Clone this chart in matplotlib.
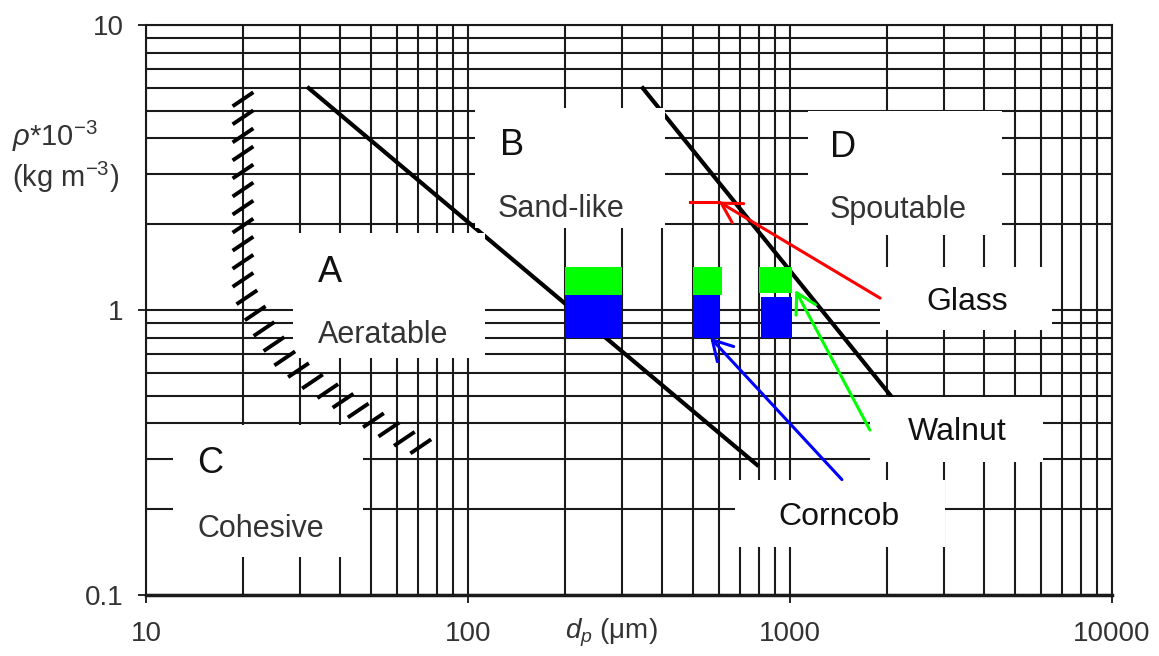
import numpy as np
import matplotlib
matplotlib.use("Agg")
import matplotlib.pyplot as plt
import matplotlib.ticker as ticker
import matplotlib.patheffects as pe
from matplotlib.patches import Rectangle
from matplotlib.path import Path
from matplotlib.transforms import IdentityTransform

plt.rcParams['font.family'] = ['Liberation Sans', 'DejaVu Sans']
plt.rcParams['mathtext.fontset'] = 'custom'
plt.rcParams['mathtext.rm'] = 'Liberation Sans'
plt.rcParams['mathtext.it'] = 'Liberation Sans:italic'

# group boundaries, dp in um, rho*1e-3
ab_dp = [32, 790]
ab_rho = [6.0, 0.286]
bd_dp = [349, 2070]
bd_rho = [6.0, 0.495]
# hatched C/A boundary
ca_dp = [20, 20, 20.3, 22.8, 26.4, 32.3, 39.7, 50.7, 63.7, 74]
ca_rho = [5.9, 1.25, 1.14, 0.886, 0.69, 0.568, 0.491, 0.411, 0.352, 0.326]

# materials
walnut_dp_lo = [200, 500, 800]
walnut_dp_hi = [300, 615, 1015]
walnut_rho_lo = [1.13, 1.13, 1.15]
walnut_rho_hi = [1.42, 1.42, 1.42]
corncob_dp_lo = [200, 500, 810]
corncob_dp_hi = [300, 600, 1015]
corncob_rho_lo = [0.80, 0.80, 0.80]
corncob_rho_hi = [1.13, 1.13, 1.11]
glass_dp = [490, 600]
glass_rho = [2.4, 2.4]

groups = ['A', 'B', 'C', 'D']
group_names = ['Aeratable', 'Sand-like', 'Cohesive', 'Spoutable']
materials = ['Glass', 'Walnut', 'Corncob']
mat_colors = ['#ff0000', '#00ff00', '#0000ff']
arrow_tips = [(600, 2.4), (1038, 1.175), (565, 0.80)]
arrow_tails = [(1905, 1.10), (1770, 0.379), (1449, 0.254)]


class Slashes(pe.AbstractPathEffect):
    """short strokes at a fixed screen angle, centred on the path (no line)"""
    def __init__(self, spacing=13, angle=34, length=18):
        super().__init__()
        self._spacing = spacing
        self._angle = np.radians(angle)
        self._length = length

    def draw_path(self, renderer, gc, tpath, affine, rgbFace=None):
        xy = affine.transform_path(tpath).vertices
        ds = np.hypot(*np.diff(xy, axis=0).T)
        s = np.concatenate(([0.0], np.cumsum(ds)))
        step = renderer.points_to_pixels(self._spacing)
        half = renderer.points_to_pixels(self._length) / 2
        st = np.arange(step / 2, s[-1], step)
        cx = np.interp(st, s, xy[:, 0])
        cy = np.interp(st, s, xy[:, 1])
        dx = half * np.cos(self._angle)
        dy = half * np.sin(self._angle)
        verts = np.empty((2 * len(st), 2))
        verts[0::2] = np.column_stack([cx - dx, cy - dy])
        verts[1::2] = np.column_stack([cx + dx, cy + dy])
        codes = np.tile([Path.MOVETO, Path.LINETO], len(st))
        renderer.draw_path(gc, Path(verts, codes), IdentityTransform())


fig = plt.figure(figsize=(11.59, 6.56), dpi=100)
ax = fig.add_axes([0.126, 0.093, 0.8335, 0.869])
ax.set_xscale('log')
ax.set_yscale('log')
ax.set_xlim(10, 10000)
ax.set_ylim(0.1, 10)

ax.set_axisbelow(True)
ax.grid(which='both', color='#1a1a1a', lw=1.5)
fmt = ticker.FuncFormatter(lambda v, p: '%g' % v)
ax.xaxis.set_major_formatter(fmt)
ax.yaxis.set_major_formatter(fmt)
ax.xaxis.set_minor_formatter(ticker.NullFormatter())
ax.yaxis.set_minor_formatter(ticker.NullFormatter())
ax.tick_params(which='major', length=6, width=1.2, direction='out',
               labelsize=20, labelcolor='#333333')
ax.tick_params(which='minor', length=0)
ax.tick_params(axis='x', pad=13)
ax.tick_params(axis='y', pad=10)
for s in ax.spines.values():
    s.set_linewidth(1.5)
    s.set_color('#1a1a1a')
ax.spines['bottom'].set_linewidth(2.5)

ax.set_xlabel(r'$d_p$ (μm)', fontsize=20, color='#333333', va='center')
ax.xaxis.set_label_coords(0.482, -0.067)
ax.set_ylabel(r'$\rho$*10$^{-3}$' + '\n' + r'(kg m$^{-3}$)', fontsize=21,
              color='#333333', rotation=0, ha='left', va='center',
              multialignment='left')
ax.yaxis.set_label_coords(-0.139, 0.768)

# boundaries
ax.plot(ab_dp, ab_rho, color='black', lw=3, zorder=2)
ax.plot(bd_dp, bd_rho, color='black', lw=3, zorder=2)

# white label boxes (axes fraction: x0, y0, x1, y1)
group_boxes = [(0.152, 0.416, 0.351, 0.635), (0.341, 0.644, 0.537, 0.854),
               (0.028, 0.067, 0.225, 0.298), (0.685, 0.632, 0.886, 0.849)]
group_letter_pos = [(0.178, 0.549), (0.366, 0.772), (0.053, 0.214), (0.708, 0.768)]
group_name_pos = [(0.178, 0.442), (0.364, 0.663), (0.053, 0.102), (0.708, 0.661)]
mat_boxes = [(0.760, 0.465, 0.938, 0.575), (0.749, 0.233, 0.929, 0.347),
             (0.610, 0.084, 0.827, 0.202)]
mat_pos = [(0.850, 0.500), (0.840, 0.272), (0.717, 0.123)]

for (x0, y0, x1, y1) in group_boxes + mat_boxes:
    ax.add_patch(Rectangle((x0, y0), x1 - x0, y1 - y0, transform=ax.transAxes,
                           facecolor='white', edgecolor='none', zorder=3))

for g, name, lp, npos in zip(groups, group_names, group_letter_pos, group_name_pos):
    ax.text(lp[0], lp[1], g, transform=ax.transAxes, fontsize=26,
            color='#111111', ha='left', va='baseline', zorder=7)
    ax.text(npos[0], npos[1], name, transform=ax.transAxes, fontsize=22,
            color='#333333', ha='left', va='baseline', zorder=7)

for m, p in zip(materials, mat_pos):
    ax.text(p[0], p[1], m, transform=ax.transAxes, fontsize=23,
            color='#111111', ha='center', va='baseline', zorder=7)

# hatched C/A boundary
ax.plot(ca_dp, ca_rho, color='black', lw=2.8, zorder=4, solid_capstyle='butt',
        path_effects=[Slashes(spacing=13, angle=34, length=18)])

# material ranges
ax.bar(walnut_dp_lo, np.subtract(walnut_rho_hi, walnut_rho_lo),
       width=np.subtract(walnut_dp_hi, walnut_dp_lo), bottom=walnut_rho_lo,
       align='edge', color='#00ff00', zorder=5)
ax.bar(corncob_dp_lo, np.subtract(corncob_rho_hi, corncob_rho_lo),
       width=np.subtract(corncob_dp_hi, corncob_dp_lo), bottom=corncob_rho_lo,
       align='edge', color='#0000ff', zorder=5)
ax.plot(glass_dp, glass_rho, color='#ff0000', lw=2.2, zorder=5)

for tip, tail, c in zip(arrow_tips, arrow_tails, mat_colors):
    ax.annotate('', xy=tip, xytext=tail,
                arrowprops=dict(arrowstyle='->,head_length=0.7,head_width=0.4',
                                color=c, lw=2.2, mutation_scale=20,
                                shrinkA=0, shrinkB=0),
                zorder=6)

fig.savefig('out.png', dpi=100)
